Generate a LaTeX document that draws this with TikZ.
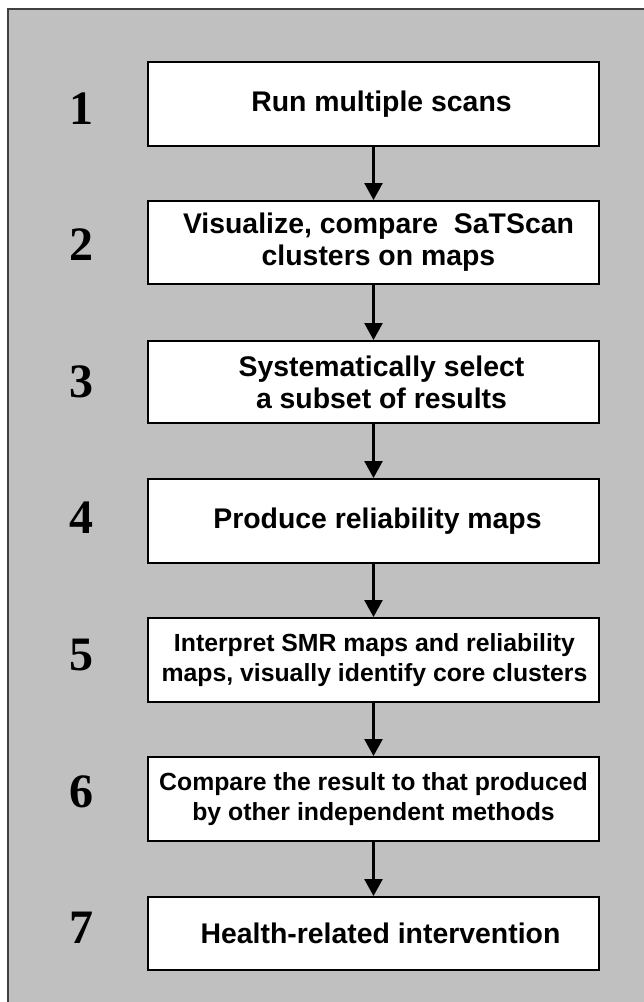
\documentclass[tikz,border=0pt]{standalone}
\usepackage{fontspec}
\setmainfont{Liberation Sans}
\newfontfamily\numfont{Liberation Serif}
\usetikzlibrary{arrows.meta}
\definecolor{bggray}{HTML}{C0C0C0}
\definecolor{edgegray}{HTML}{404040}
\begin{document}
\begin{tikzpicture}[x=1pt,y=-1pt,
  stepbox/.style={draw=black, line width=2pt, fill=white, minimum width=451pt,
    minimum height=83pt, inner sep=0pt},
  bigtext/.style={inner sep=0pt, align=center, font=\bfseries\fontsize{28.4}{32}\selectfont},
  smalltext/.style={inner sep=0pt, align=center, font=\bfseries\fontsize{24.8}{30}\selectfont},
  num/.style={inner sep=0pt, font=\numfont\bfseries\fontsize{48}{48}\selectfont},
  flow/.style={line width=2.5pt, -{Triangle[width=18pt,length=17pt]}}]
\useasboundingbox (0,0) rectangle (643,1002);
\fill[bggray] (8,9) rectangle (650,1010);
\draw[line width=1.3pt, edgegray] (8,1010) -- (8,9) -- (650,9);

\node[stepbox, minimum height=84pt,
  label={[bigtext, xshift=8pt]center:Run multiple scans}] (b1) at (373.5,104) {};
\node[stepbox,
  label={[bigtext, xshift=5pt]center:Visualize, compare\ \ SaTScan\\clusters on maps}] (b2) at (373.5,242.5) {};
\node[stepbox, minimum height=82pt,
  label={[bigtext, xshift=8pt]center:Systematically select\\a subset of results}] (b3) at (373.5,382) {};
\node[stepbox, minimum height=84pt,
  label={[bigtext, xshift=4pt]center:Produce reliability maps}] (b4) at (373.5,521) {};
\node[stepbox, minimum height=84pt,
  label={[smalltext, xshift=1pt]center:Interpret SMR maps and reliability\\maps, visually identify core clusters}] (b5) at (373.5,660) {};
\node[stepbox, minimum height=84pt,
  label={[smalltext]center:Compare the result to that produced\\by other independent methods}] (b6) at (373.5,799) {};
\node[stepbox, minimum height=73pt,
  label={[bigtext, xshift=7pt]center:Health-related intervention}] (b7) at (373.5,933.5) {};

\node[num] (n1) at (81,108.5) {1};
\node[num] (n2) at (81,245) {2};
\node[num] (n3) at (81,382) {3};
\node[num] (n4) at (81,518) {4};
\node[num] (n5) at (81,655) {5};
\node[num] (n6) at (81,792) {6};
\node[num] (n7) at (81,928) {7};

\draw[flow] (b1) -- (b2);
\draw[flow] (b2) -- (b3);
\draw[flow] (b3) -- (b4);
\draw[flow] (b4) -- (b5);
\draw[flow] (b5) -- (b6);
\draw[flow] (b6) -- (b7);
\end{tikzpicture}
\end{document}
